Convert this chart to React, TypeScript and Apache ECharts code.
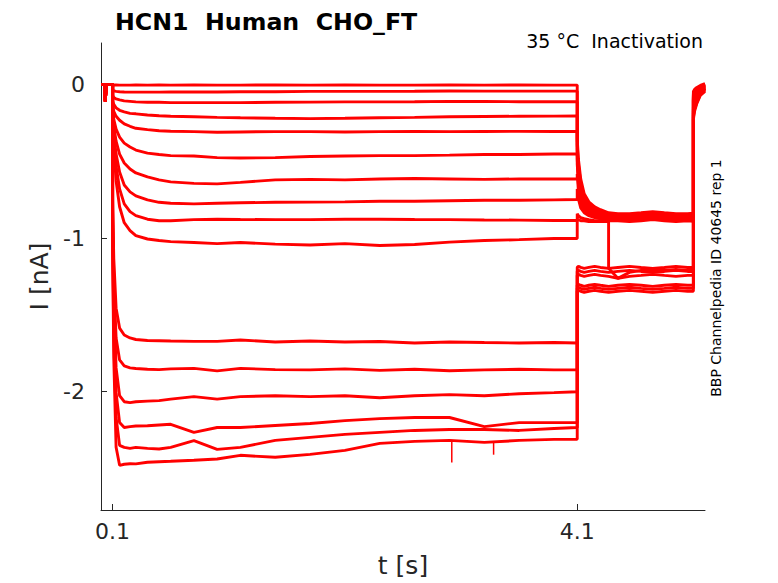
import React, { useEffect, useRef } from "react";
import * as echarts from "echarts";

// ---- time grids (s) ----
const baseTimes = [0, 0.035, 0.037, 0.045, 0.1];
const baseCurrent = [0, 0, -0.11, 0, 0];

const stepTimes = [0.1, 0.11, 0.13, 0.16, 0.2, 0.25, 0.3, 0.4, 0.5, 0.6, 0.8, 1.0, 1.2, 1.5, 1.8, 2.1, 2.4, 2.7, 3.0, 3.3, 3.6, 3.9, 4.1];
const tailTimes = [4.1, 4.11, 4.13, 4.16, 4.2, 4.25, 4.3, 4.37, 4.37, 4.45, 4.55, 4.65, 4.75, 4.85, 4.95, 5.05, 5.1];
const endTimes = [5.1, 5.11, 5.13, 5.16, 5.2];

// ---- currents (nA) during the conditioning step ----
const stepCurrents = [
  [-0.002, -0.003, -0.003, -0.004, -0.004, -0.004, -0.003, -0.004, -0.003, -0.004, -0.003, -0.004, -0.004, -0.003, -0.004, -0.003, -0.004, -0.004, -0.003, -0.004, -0.003, -0.004, -0.004],
  [-0.032, -0.042, -0.045, -0.047, -0.049, -0.050, -0.050, -0.050, -0.050, -0.049, -0.049, -0.049, -0.047, -0.047, -0.045, -0.045, -0.045, -0.044, -0.042, -0.043, -0.043, -0.043, -0.043],
  [-0.071, -0.084, -0.094, -0.100, -0.107, -0.110, -0.113, -0.116, -0.116, -0.118, -0.118, -0.118, -0.118, -0.116, -0.115, -0.113, -0.113, -0.112, -0.110, -0.111, -0.112, -0.112, -0.112],
  [-0.110, -0.129, -0.152, -0.168, -0.178, -0.188, -0.191, -0.199, -0.204, -0.207, -0.210, -0.214, -0.217, -0.220, -0.222, -0.220, -0.217, -0.214, -0.210, -0.208, -0.207, -0.206, -0.205],
  [-0.136, -0.175, -0.207, -0.233, -0.256, -0.272, -0.285, -0.294, -0.301, -0.304, -0.307, -0.311, -0.309, -0.307, -0.307, -0.309, -0.307, -0.306, -0.307, -0.306, -0.305, -0.306, -0.306],
  [-0.162, -0.227, -0.291, -0.343, -0.382, -0.407, -0.427, -0.447, -0.456, -0.463, -0.466, -0.476, -0.479, -0.476, -0.469, -0.466, -0.463, -0.463, -0.460, -0.456, -0.456, -0.453, -0.453],
  [-0.181, -0.272, -0.369, -0.453, -0.511, -0.550, -0.576, -0.602, -0.621, -0.634, -0.644, -0.647, -0.637, -0.621, -0.618, -0.621, -0.615, -0.612, -0.615, -0.618, -0.615, -0.615, -0.615],
  [-0.201, -0.317, -0.453, -0.570, -0.654, -0.699, -0.725, -0.751, -0.767, -0.773, -0.777, -0.773, -0.770, -0.767, -0.766, -0.764, -0.760, -0.760, -0.757, -0.754, -0.754, -0.751, -0.749],
  [-0.214, -0.356, -0.531, -0.680, -0.777, -0.828, -0.854, -0.877, -0.887, -0.887, -0.880, -0.877, -0.879, -0.880, -0.880, -0.877, -0.877, -0.879, -0.880, -0.882, -0.883, -0.885, -0.885],
  [-0.233, -0.408, -0.628, -0.796, -0.900, -0.951, -0.984, -1.006, -1.016, -1.023, -1.029, -1.036, -1.029, -1.039, -1.045, -1.036, -1.048, -1.042, -1.026, -1.016, -1.010, -1.003, -1.003],
  [-0.744, -1.133, -1.456, -1.586, -1.631, -1.650, -1.660, -1.667, -1.668, -1.670, -1.672, -1.672, -1.663, -1.676, -1.670, -1.676, -1.673, -1.683, -1.676, -1.680, -1.683, -1.680, -1.683],
  [-0.809, -1.262, -1.650, -1.793, -1.832, -1.845, -1.849, -1.854, -1.856, -1.851, -1.848, -1.864, -1.848, -1.856, -1.858, -1.851, -1.861, -1.854, -1.864, -1.858, -1.854, -1.858, -1.858],
  [-0.874, -1.392, -1.845, -2.026, -2.065, -2.071, -2.065, -2.061, -2.058, -2.048, -2.032, -2.048, -2.032, -2.026, -2.032, -2.026, -2.039, -2.026, -2.019, -2.026, -2.013, -2.006, -2.000],
  [-0.939, -1.521, -2.006, -2.201, -2.233, -2.227, -2.223, -2.222, -2.217, -2.212, -2.265, -2.233, -2.233, -2.220, -2.207, -2.188, -2.175, -2.168, -2.168, -2.227, -2.201, -2.201, -2.201],
  [-1.003, -1.650, -2.168, -2.349, -2.362, -2.369, -2.362, -2.369, -2.373, -2.362, -2.319, -2.375, -2.362, -2.317, -2.297, -2.278, -2.265, -2.252, -2.246, -2.246, -2.252, -2.239, -2.233],
  [-1.068, -1.780, -2.362, -2.479, -2.472, -2.469, -2.470, -2.459, -2.456, -2.453, -2.446, -2.438, -2.414, -2.427, -2.408, -2.382, -2.336, -2.323, -2.317, -2.330, -2.317, -2.310, -2.310],
];

// ---- currents (nA) during the test pulse (tail) ----
const tailCurrents = [
  [-0.356, -0.485, -0.615, -0.712, -0.764, -0.796, -0.815, -0.835, -0.835, -0.841, -0.841, -0.835, -0.828, -0.835, -0.841, -0.841, -0.838],
  [-0.388, -0.518, -0.641, -0.731, -0.777, -0.809, -0.822, -0.841, -0.841, -0.848, -0.848, -0.841, -0.835, -0.841, -0.848, -0.848, -0.845],
  [-0.421, -0.550, -0.667, -0.744, -0.790, -0.815, -0.828, -0.848, -0.848, -0.854, -0.854, -0.848, -0.841, -0.848, -0.854, -0.854, -0.851],
  [-0.453, -0.582, -0.693, -0.764, -0.803, -0.828, -0.841, -0.854, -0.854, -0.861, -0.861, -0.854, -0.848, -0.854, -0.861, -0.861, -0.858],
  [-0.485, -0.615, -0.718, -0.777, -0.815, -0.835, -0.848, -0.861, -0.861, -0.867, -0.867, -0.861, -0.854, -0.861, -0.867, -0.861, -0.864],
  [-0.518, -0.647, -0.738, -0.796, -0.828, -0.848, -0.861, -0.867, -0.867, -0.874, -0.874, -0.867, -0.861, -0.867, -0.874, -0.867, -0.870],
  [-0.582, -0.693, -0.770, -0.815, -0.841, -0.854, -0.867, -0.874, -0.874, -0.874, -0.880, -0.874, -0.867, -0.874, -0.880, -0.874, -0.877],
  [-0.680, -0.744, -0.803, -0.835, -0.854, -0.867, -0.874, -0.880, -0.880, -0.880, -0.887, -0.880, -0.874, -0.880, -0.887, -0.880, -0.883],
  [-0.841, -0.854, -0.867, -0.874, -0.880, -0.887, -0.887, -0.887, -0.887, -0.887, -0.893, -0.887, -0.880, -0.887, -0.893, -0.887, -0.890],
  [-0.880, -0.880, -0.887, -0.887, -0.893, -0.893, -0.893, -0.893, -1.197, -1.262, -1.223, -1.210, -1.204, -1.210, -1.204, -1.210, -1.210],
  [-1.191, -1.184, -1.191, -1.197, -1.191, -1.184, -1.191, -1.197, -1.197, -1.191, -1.184, -1.191, -1.197, -1.191, -1.184, -1.191, -1.191],
  [-1.217, -1.210, -1.217, -1.223, -1.217, -1.210, -1.217, -1.223, -1.223, -1.217, -1.210, -1.217, -1.223, -1.217, -1.210, -1.217, -1.217],
  [-1.243, -1.236, -1.243, -1.249, -1.243, -1.236, -1.243, -1.249, -1.249, -1.262, -1.249, -1.243, -1.236, -1.243, -1.249, -1.243, -1.243],
  [-1.307, -1.301, -1.307, -1.314, -1.307, -1.301, -1.307, -1.314, -1.314, -1.307, -1.301, -1.307, -1.314, -1.307, -1.301, -1.307, -1.307],
  [-1.327, -1.320, -1.327, -1.333, -1.327, -1.320, -1.327, -1.333, -1.333, -1.327, -1.320, -1.327, -1.333, -1.327, -1.320, -1.327, -1.327],
  [-1.346, -1.340, -1.346, -1.353, -1.346, -1.340, -1.346, -1.353, -1.353, -1.346, -1.340, -1.346, -1.353, -1.346, -1.340, -1.346, -1.346],
];

// ---- currents (nA) after returning to holding ----
const endCurrents = [
  [-0.045, -0.032, -0.019, -0.006, 0.006],
  [-0.058, -0.045, -0.026, -0.013, 0.0],
  [-0.065, -0.052, -0.032, -0.013, 0.0],
  [-0.071, -0.058, -0.039, -0.019, -0.003],
  [-0.078, -0.065, -0.045, -0.019, -0.006],
  [-0.084, -0.071, -0.045, -0.026, -0.006],
  [-0.091, -0.078, -0.052, -0.026, -0.010],
  [-0.097, -0.084, -0.058, -0.032, -0.013],
  [-0.104, -0.091, -0.065, -0.032, -0.013],
  [-0.149, -0.123, -0.084, -0.045, -0.019],
  [-0.162, -0.129, -0.091, -0.052, -0.023],
  [-0.175, -0.136, -0.097, -0.052, -0.026],
  [-0.188, -0.142, -0.104, -0.058, -0.026],
  [-0.201, -0.155, -0.110, -0.065, -0.032],
  [-0.214, -0.162, -0.117, -0.065, -0.039],
  [-0.227, -0.175, -0.123, -0.071, -0.045],
];

// brief downward glitches on the deepest trace
const spikeTimes = [3.02, 3.38];
const spikeBase = [-2.317, -2.33];
const spikeTip = [-2.46, -2.41];

const xTicks = [0.1, 4.1];
const yTicks = [-2, -1, 0];

const RED = "#ff0000";
const AX = "#262626";
const FONT = "DejaVu Sans";

function traceData(i: number) {
  const pts: number[][] = [];
  baseTimes.forEach((t, k) => pts.push([t, baseCurrent[k]]));
  stepTimes.forEach((t, k) => pts.push([t, stepCurrents[i][k]]));
  tailTimes.forEach((t, k) => pts.push([t, tailCurrents[i][k]]));
  endTimes.forEach((t, k) => pts.push([t, endCurrents[i][k]]));
  return pts;
}

export default function App() {
  const ref = useRef<HTMLDivElement>(null);
  useEffect(() => {
    document.body.style.margin = "0";
    const chart = echarts.init(ref.current!, null, { renderer: "svg" });
    const series: any[] = stepCurrents.map((_, i) => ({
      type: "line",
      data: traceData(i),
      showSymbol: false,
      symbol: "none",
      lineStyle: { color: RED, width: 2.9 },
      silent: true,
    }));
    spikeTimes.forEach((t, k) => {
      series.push({
        type: "line",
        data: [
          [t, spikeBase[k]],
          [t, spikeTip[k]],
        ],
        showSymbol: false,
        symbol: "none",
        lineStyle: { color: RED, width: 1.5 },
        silent: true,
      });
    });
    chart.setOption({
      animation: false,
      backgroundColor: "#ffffff",
      title: {
        text: "HCN1  Human  CHO_FT",
        left: 110,
        top: 5,
        textStyle: { fontFamily: FONT, fontSize: 23.7, fontWeight: "bold", color: "#000" },
      },
      grid: { left: 101, top: 43, width: 604, height: 470 },
      xAxis: {
        type: "value",
        min: 0,
        max: 5.2,
        splitLine: { show: false },
        axisLine: { show: true, onZero: false, lineStyle: { color: AX, width: 1 } },
        axisTick: { show: true, inside: true, length: 6, customValues: xTicks, lineStyle: { color: AX } },
        axisLabel: {
          customValues: xTicks,
          formatter: (v: number) => v.toFixed(1),
          fontFamily: FONT,
          fontSize: 22,
          color: AX,
          margin: 10,
        },
        name: "t [s]",
        nameLocation: "middle",
        nameGap: 43,
        nameTextStyle: { fontFamily: FONT, fontSize: 25, color: AX },
      },
      yAxis: {
        type: "value",
        min: -2.77,
        max: 0.27,
        splitLine: { show: false },
        axisLine: { show: true, onZero: false, lineStyle: { color: AX, width: 1 } },
        axisTick: { show: true, inside: true, length: 6, customValues: yTicks, lineStyle: { color: AX } },
        axisLabel: {
          customValues: yTicks,
          formatter: (v: number) => String(v),
          fontFamily: FONT,
          fontSize: 22,
          color: AX,
          margin: 16,
        },
        name: "I [nA]",
        nameLocation: "middle",
        nameGap: 47,
        nameRotate: 90,
        nameTextStyle: { fontFamily: FONT, fontSize: 25, color: AX },
      },
      graphic: [
        {
          type: "text",
          right: 75,
          top: 31,
          style: { text: "35 °C  Inactivation", fontFamily: FONT, fontSize: 19, fill: "#000" },
        },
        {
          type: "text",
          x: 716,
          y: 278,
          rotation: Math.PI / 2,
          style: {
            text: "BBP Channelpedia ID 40645 rep 1",
            fontFamily: FONT,
            fontSize: 14,
            fill: "#000",
            align: "center",
            verticalAlign: "middle",
          },
        },
      ],
      series,
    });
    return () => chart.dispose();
  }, []);
  return <div ref={ref} style={{ width: 778, height: 583 }} />;
}
